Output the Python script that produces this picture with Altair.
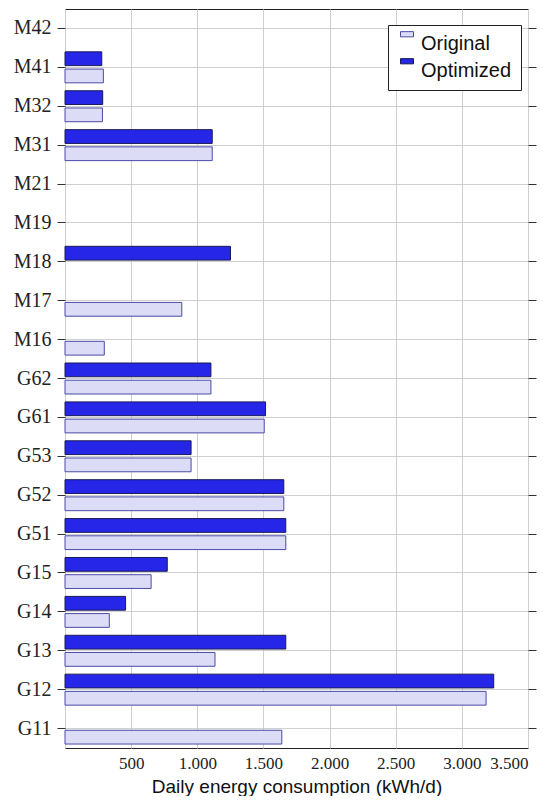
import altair as alt
import pandas as pd

categories = ["M42", "M41", "M32", "M31", "M21", "M19", "M18", "M17", "M16",
              "G62", "G61", "G53", "G52", "G51", "G15", "G14", "G13", "G12", "G11"]
original = [None, 290, 283, 1113, None, None, None, 883, 297,
            1103, 1506, 953, 1654, 1669, 651, 335, 1134, 3183, 1639]
optimized = [None, 278, 285, 1113, None, None, 1251, None, None,
             1103, 1516, 953, 1654, 1669, 773, 458, 1669, 3241, None]
series = ["Original", "Optimized"]
x_ticks = [0, 500, 1000, 1500, 2000, 2500, 3000, 3500]

rows = []
for c, o, p in zip(categories, original, optimized):
    if o is not None:
        rows.append({"category": c, "series": "Original", "value": o})
    if p is not None:
        rows.append({"category": c, "series": "Optimized", "value": p})
df = pd.DataFrame(rows)

fill_colors = ["#dcdcf6", "#2626e8"]
stroke_colors = ["#4b4ba6", "#1a1a55"]

legend_kw = dict(
    title=None, orient="none", legendX=323, legendY=16,
    fillColor="white", strokeColor="#222222", padding=9,
    labelFont="Liberation Sans", labelFontSize=20, labelColor="#111111",
    symbolType="M-1,-1.9H1V-1.1H-1Z", symbolSize=169, symbolStrokeWidth=1,
    rowPadding=2, labelOffset=4, cornerRadius=0,
)

y_scale = alt.Scale(domain=categories, paddingInner=0, paddingOuter=0)

bars = alt.Chart(df).mark_bar(strokeWidth=1).encode(
    x=alt.X("value:Q",
            scale=alt.Scale(domain=[0, 3500], nice=False, zero=True),
            axis=alt.Axis(values=x_ticks,
                          labelExpr="datum.value == 0 ? '' : replace(format(datum.value, ','), ',', '.')",
                          title="Daily energy consumption (kWh/d)",
                          grid=True, gridColor="#cfcfcf", ticks=False, tickSize=0,
                          domain=False, labelFont="Liberation Serif", labelFontSize=17,
                          labelPadding=7, labelColor="#222222",
                          titleFont="Liberation Sans", titleFontSize=19,
                          titleFontWeight="normal", titlePadding=6,
                          titleColor="#111111")),
    y=alt.Y("category:N", scale=y_scale,
            axis=alt.Axis(title=None, grid=True, gridColor="#cfcfcf",
                          tickSize=8, tickColor="#333333", labelPadding=6,
                          domain=False, labelFont="Liberation Serif",
                          labelFontSize=20, labelColor="#222222")),
    yOffset=alt.YOffset("series:N",
                        scale=alt.Scale(domain=["Optimized", "Original"],
                                        paddingInner=0.2, paddingOuter=0.23)),
    fill=alt.Fill("series:N",
                  scale=alt.Scale(domain=series, range=fill_colors),
                  legend=alt.Legend(**legend_kw)),
    stroke=alt.Stroke("series:N",
                      scale=alt.Scale(domain=series, range=stroke_colors),
                      legend=alt.Legend(**legend_kw)),
)

right_ticks = alt.Chart(df).mark_rule(opacity=0).encode(
    y=alt.Y("category:N", scale=y_scale,
            axis=alt.Axis(orient="right", title=None, labels=False, grid=False,
                          tickSize=8, tickColor="#333333", domain=False)),
)

chart = alt.layer(bars, right_ticks).resolve_axis(y="independent").properties(
    width=463, height=739,
    autosize=alt.AutoSizeParams(type="none"),
    padding={"left": 57, "top": 1, "right": 19, "bottom": 48},
).configure_view(stroke="#222222", strokeWidth=1)

chart.save("out.html", embed_options={"renderer": "svg", "actions": False})
